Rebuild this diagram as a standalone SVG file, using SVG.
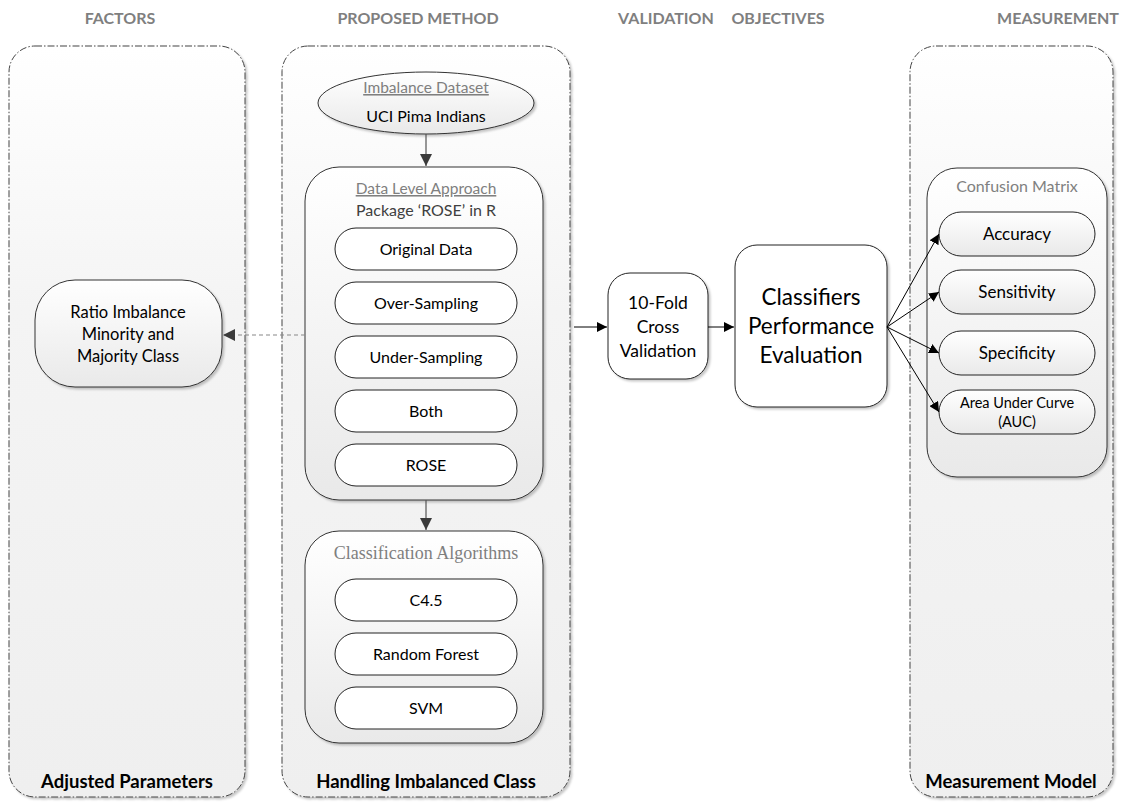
<svg xmlns="http://www.w3.org/2000/svg" width="1121" height="805" viewBox="0 0 1121 805">
<defs>
<linearGradient id="gPanel" x1="0" y1="0" x2="0" y2="1"><stop offset="0" stop-color="#ffffff"/><stop offset="0.35" stop-color="#f4f4f4"/><stop offset="1" stop-color="#efefef"/></linearGradient>
<linearGradient id="gBox" x1="0" y1="0" x2="0" y2="1"><stop offset="0" stop-color="#ffffff"/><stop offset="1" stop-color="#e9e9e9"/></linearGradient>
<filter id="sh" x="-10%" y="-10%" width="130%" height="130%"><feDropShadow dx="2" dy="2" stdDeviation="1.2" flood-color="#000" flood-opacity="0.22"/></filter>
<marker id="ah" viewBox="0 0 10 10" refX="10" refY="5" markerWidth="10" markerHeight="10" markerUnits="userSpaceOnUse" orient="auto"><path d="M0,0 L10,5 L0,10 z" fill="#000"/></marker>
<marker id="ahg" viewBox="0 0 10 10" refX="10" refY="5" markerWidth="12" markerHeight="12" markerUnits="userSpaceOnUse" orient="auto"><path d="M0,0 L10,5 L0,10 z" fill="#3a3a3a"/></marker>
</defs>
<style>
.panel{fill:url(#gPanel);stroke:#444;stroke-width:1;stroke-dasharray:7 2 1.5 2;filter:url(#sh)}
.box{fill:url(#gBox);stroke:#333;stroke-width:1;filter:url(#sh)}
.pill{fill:#fff;stroke:#222;stroke-width:1}
.gpill{fill:url(#gBox);stroke:#222;stroke-width:1}
.wbox{fill:#fff;stroke:#222;stroke-width:1;filter:url(#sh)}
text{font-family:Lato,"Liberation Sans",sans-serif;text-anchor:middle}
.hd{font-size:16px;font-weight:bold;fill:#7f7f7f}
.ft{font-size:18.5px;font-weight:bold;fill:#000}
.n{font-size:16px;fill:#000}
.g{font-size:15.5px;fill:#7f7f7f;text-decoration:underline}
.serif{font-family:"Liberation Serif",serif;font-size:18px;fill:#7f7f7f}
.c{stroke:#000;stroke-width:1;fill:none}
.cg{stroke:#555;stroke-width:1.2;fill:none}
.dash{stroke:#888;stroke-width:1.2;fill:none;stroke-dasharray:4 3}
</style>

<g id="headers">
<text class="hd" x="120" y="24">FACTORS</text>
<text class="hd" x="418" y="24">PROPOSED METHOD</text>
<text class="hd" x="666" y="24">VALIDATION</text>
<text class="hd" x="778" y="24">OBJECTIVES</text>
<text class="hd" x="1058" y="24">MEASUREMENT</text>
</g>

<g id="panel-factors">
<rect class="panel" x="9" y="46" width="236" height="751" rx="26"/>
<text class="ft" x="127" y="788">Adjusted Parameters</text>
</g>
<g id="panel-proposed">
<rect class="panel" x="282" y="46" width="288" height="751" rx="26"/>
<text class="ft" x="426" y="788">Handling Imbalanced Class</text>
</g>
<g id="panel-measurement">
<rect class="panel" x="910" y="46" width="203" height="751" rx="26"/>
<text class="ft" x="1011" y="788">Measurement Model</text>
</g>

<g id="dataset">
<ellipse class="box" cx="426" cy="103" rx="108" ry="31"/>
<text class="g" x="426" y="93">Imbalance Dataset</text>
<text class="n" x="426" y="122">UCI Pima Indians</text>
</g>

<g id="data-level">
<rect class="box" x="305" y="167" width="238" height="333" rx="34"/>
<text class="g" x="426" y="194">Data Level Approach</text>
<text class="n" x="426" y="216" style="fill:#404040">Package ‘ROSE’ in R</text>
</g>
<g id="original-data"><rect class="pill" x="335" y="228" width="182" height="42" rx="21"/><text class="n" x="426" y="255">Original Data</text></g>
<g id="over-sampling"><rect class="pill" x="335" y="282" width="182" height="42" rx="21"/><text class="n" x="426" y="309">Over-Sampling</text></g>
<g id="under-sampling"><rect class="pill" x="335" y="336" width="182" height="42" rx="21"/><text class="n" x="426" y="363">Under-Sampling</text></g>
<g id="both"><rect class="pill" x="335" y="390" width="182" height="42" rx="21"/><text class="n" x="426" y="417">Both</text></g>
<g id="rose"><rect class="pill" x="335" y="444" width="182" height="42" rx="21"/><text class="n" x="426" y="471">ROSE</text></g>

<g id="classification">
<rect class="box" x="305" y="531" width="238" height="212" rx="34"/>
<text class="serif" x="426" y="559">Classification Algorithms</text>
</g>
<g id="c45"><rect class="pill" x="335" y="579" width="182" height="42" rx="21"/><text class="n" x="426" y="606">C4.5</text></g>
<g id="random-forest"><rect class="pill" x="335" y="633" width="182" height="42" rx="21"/><text class="n" x="426" y="660">Random Forest</text></g>
<g id="svm"><rect class="pill" x="335" y="687" width="182" height="42" rx="21"/><text class="n" x="426" y="714">SVM</text></g>

<g id="ratio">
<rect class="box" x="35" y="280" width="187" height="107" rx="40"/>
<text class="n" x="128" y="318" style="font-size:16.5px">Ratio Imbalance</text>
<text class="n" x="128" y="340" style="font-size:16.5px">Minority and</text>
<text class="n" x="128" y="362" style="font-size:16.5px">Majority Class</text>
</g>

<g id="cross-validation">
<rect class="wbox" x="608" y="273" width="100" height="106" rx="22"/>
<text class="n" x="658" y="309" style="font-size:17.5px">10-Fold</text>
<text class="n" x="658" y="333" style="font-size:17.5px">Cross</text>
<text class="n" x="658" y="357" style="font-size:17.5px">Validation</text>
</g>

<g id="evaluation">
<rect class="wbox" x="735" y="245" width="152" height="162" rx="22"/>
<text class="n" x="811" y="305" style="font-size:22.5px">Classifiers</text>
<text class="n" x="811" y="334" style="font-size:22.5px">Performance</text>
<text class="n" x="811" y="363" style="font-size:22.5px">Evaluation</text>
</g>

<g id="confusion-matrix">
<rect class="box" x="927" y="168" width="180" height="309" rx="30"/>
<text x="1017" y="192" style="font-size:16px;fill:#808080">Confusion Matrix</text>
</g>
<g id="accuracy"><rect class="gpill" x="939" y="212" width="156" height="44" rx="22"/><text class="n" x="1017" y="240" style="font-size:17px">Accuracy</text></g>
<g id="sensitivity"><rect class="gpill" x="939" y="270" width="156" height="44" rx="22"/><text class="n" x="1017" y="298" style="font-size:17px">Sensitivity</text></g>
<g id="specificity"><rect class="gpill" x="939" y="331" width="156" height="44" rx="22"/><text class="n" x="1017" y="359" style="font-size:17px">Specificity</text></g>
<g id="auc"><rect class="gpill" x="939" y="390" width="156" height="44" rx="22"/><text class="n" x="1017" y="408" style="font-size:14.5px">Area Under Curve</text><text class="n" x="1017" y="427" style="font-size:14.5px">(AUC)</text></g>

<g id="connectors">
<line class="cg" x1="426" y1="134" x2="426" y2="166" marker-end="url(#ahg)"/>
<line class="cg" x1="426" y1="500" x2="426" y2="530" marker-end="url(#ahg)"/>
<line class="dash" x1="305" y1="335" x2="223" y2="335" marker-end="url(#ahg)"/>
<line class="c" x1="574" y1="327" x2="607" y2="327" marker-end="url(#ah)"/>
<line class="c" x1="708" y1="327" x2="734" y2="327" marker-end="url(#ah)"/>
<line class="c" x1="887" y1="327" x2="939" y2="234" marker-end="url(#ah)"/>
<line class="c" x1="887" y1="327" x2="939" y2="292" marker-end="url(#ah)"/>
<line class="c" x1="887" y1="327" x2="939" y2="353" marker-end="url(#ah)"/>
<line class="c" x1="887" y1="327" x2="939" y2="412" marker-end="url(#ah)"/>
</g>
</svg>
